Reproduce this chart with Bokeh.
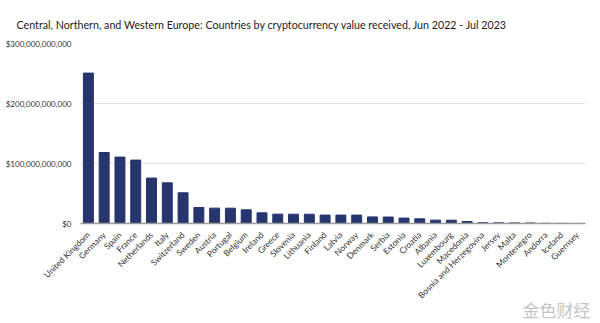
from bokeh.plotting import figure
from bokeh.models import ColumnDataSource, NumeralTickFormatter, FixedTicker, Range1d, Title
from bokeh.embed import file_html
from bokeh.resources import INLINE
import math

countries = ["United Kingdom", "Germany", "Spain", "France", "Netherlands", "Italy",
             "Switzerland", "Sweden", "Austria", "Portugal", "Belgium", "Ireland",
             "Greece", "Slovenia", "Lithuania", "Finland", "Latvia", "Norway",
             "Denmark", "Serbia", "Estonia", "Croatia", "Albania", "Luxembourg",
             "Macedonia", "Bosnia and Herzegovina", "Jersey", "Malta", "Montenegro",
             "Andorra", "Iceland", "Guernsey"]
values_bn = [250.7, 118.3, 110.7, 105.7, 75.7, 67.8, 51.2, 26.7, 25.6, 25.5, 22.8, 17.8,
             15.6, 15.5, 15.4, 14.0, 14.0, 14.0, 11.0, 10.8, 9.0, 7.8, 5.6, 5.5,
             3.3, 1.3, 1.1, 1.0, 0.9, 0.3, 0.2, 0.1]
values = [v * 1e9 for v in values_bn]
y_ticks = [0, 100e9, 200e9, 300e9]
title_text = "Central, Northern, and Western Europe: Countries by cryptocurrency value received, Jun 2022 - Jul 2023"
watermark_text = "金色财经"

src = ColumnDataSource(data=dict(country=countries, value=values))

p = figure(width=600, height=323, x_range=countries, y_range=Range1d(0, 300e9),
           output_backend="svg", toolbar_location=None,
           min_border_left=80, min_border_right=15, min_border_top=43, min_border_bottom=100)

t = Title(text=title_text, align="left", offset=-64, text_font="Lato",
          text_font_size="10.7px", text_font_style="normal", text_color="#222222",
          standoff=25)
p.title = t

p.vbar(x="country", top="value", width=0.63, source=src,
       fill_color="#27356e", line_color="#27356e")

p.outline_line_color = None
p.background_fill_color = "white"
p.border_fill_color = "white"

p.xgrid.grid_line_color = None
p.ygrid.grid_line_color = "#e2e2e2"
p.ygrid.grid_line_width = 1

p.yaxis.ticker = FixedTicker(ticks=y_ticks)
p.yaxis.formatter = NumeralTickFormatter(format="$0,0")
p.yaxis.axis_line_color = None
p.yaxis.major_tick_line_color = None
p.yaxis.minor_tick_line_color = None
p.yaxis.major_label_text_font = "Lato"
p.yaxis.major_label_text_font_size = "8px"
p.yaxis.major_label_text_color = "#333333"
p.yaxis.major_label_standoff = 3

p.xaxis.axis_line_color = "#9a9a9a"
p.xaxis.axis_line_width = 1.5
p.xaxis.major_tick_line_color = None
p.xaxis.minor_tick_line_color = None
p.xaxis.major_label_orientation = math.pi / 4
p.xaxis.major_label_text_font = "Lato"
p.xaxis.major_label_text_font_size = "8.5px"
p.xaxis.major_label_text_color = "#333333"
p.xaxis.major_label_standoff = 4

wm = Title(text=watermark_text, align="right", offset=-5, text_font="Noto Sans CJK SC",
           text_font_size="17px", text_font_style="normal", text_color="#c4c4c4",
           standoff=-31)
p.add_layout(wm, "below")

open("out.html", "w").write(file_html(p, INLINE))
